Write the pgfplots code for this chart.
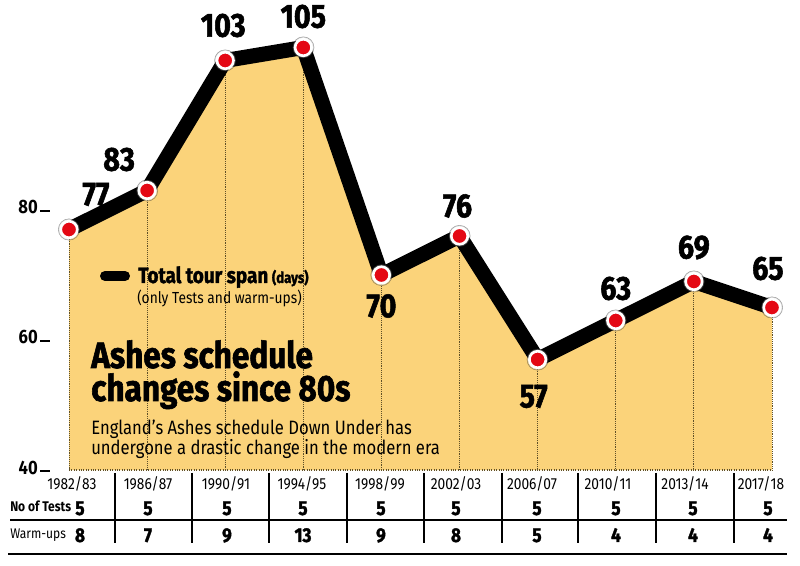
\documentclass[border=0pt]{standalone}
\usepackage{fontspec}
\setmainfont{Fira Sans}[FakeStretch=0.86]
\newfontfamily\heavy{Fira Sans}[FakeStretch=0.86, BoldFeatures={FakeBold=1.6}]
\usepackage{pgfplots}
\usepackage{pgfplotstable}
\usepgfplotslibrary{fillbetween}
\pgfplotsset{compat=1.18}

\definecolor{areafill}{RGB}{251,211,122}
\definecolor{dotred}{RGB}{228,8,20}
\definecolor{dotline}{RGB}{95,80,40}

% Ashes tours Down Under: total span (days), Tests and warm-up games
\pgfplotstableread{
x span tests warm
0  77 5 8
1  83 5 7
2 103 5 9
3 105 5 13
4  70 5 9
5  76 5 8
6  57 5 5
7  63 5 4
8  69 5 4
9  65 5 4
}\tours

% value label: x index, value, x offset and y offset in px
\newcommand\vlab[4]{\node[font=\heavy\fontsize{25}{25}\selectfont\bfseries, xshift={#3*0.75pt}, yshift={#4*0.75pt}] at (axis cs:#1,#2) {#2};}

\begin{document}
\begin{tikzpicture}
\begin{axis}[
  scale only axis, width=600pt, height=423.75pt,
  xmin=-0.8834, xmax=9.3591, ymin=25.3846, ymax=112.3077,
  hide axis, clip=false,
]
\coordinate (tl) at (rel axis cs:0,1);
\coordinate (br) at (rel axis cs:1,0);

% shaded area under the tour-span line, down to 40 days
\addplot[name path=top, draw=none, forget plot] table[x=x, y=span] {\tours};
\path[name path=base] (axis cs:0,40) -- (axis cs:9,40);
\addplot[areafill] fill between[of=top and base];
\draw[dotline, densely dotted, line width=0.8pt] (axis cs:0,40) -- (axis cs:9,40);

% dotted drop lines from each tour down to the base
\addplot[draw=none, forget plot,
  error bars/.cd, y dir=minus, y explicit, error mark=none,
  error bar style={dotline, densely dotted, line width=0.7pt}]
  table[x=x, y=span, y error expr=\thisrow{span}-40] {\tours};

% the tour-span line
\addplot[black, line width=11.25pt, line join=round] table[x=x, y=span] {\tours};

% markers with a soft halo
\addplot[only marks, mark=*, mark size=8pt,
  mark options={fill=black!30, draw=none, opacity=0.35}] table[x=x, y=span] {\tours};
\addplot[only marks, mark=*, mark size=6.2pt,
  mark options={fill=dotred, draw=white, line width=2pt}] table[x=x, y=span] {\tours};

% values
\vlab{0}{77}{27}{35}
\vlab{1}{83}{-28}{31}
\vlab{2}{103}{-2}{35}
\vlab{3}{105}{0}{31}
\vlab{4}{70}{0}{-31}
\vlab{5}{76}{-2}{30}
\vlab{6}{57}{-4}{-37}
\vlab{7}{63}{0}{32}
\vlab{8}{69}{0}{34}
\vlab{9}{65}{-4}{39}
\end{axis}

\begin{scope}[shift={(tl)}, x=0.75pt, y=-0.75pt]
% y scale marks
\foreach \v/\yb/\yl in {80/214/211, 60/344/341, 40/475/471}{
  \node[anchor=base east, inner sep=0pt, font=\fontsize{14.5}{14.5}\selectfont\bfseries] at (38,\yb) {\v};
  \draw[line width=0.9pt] (40,\yl) -- (50,\yl);
}

% legend
\draw[black, line width=7.5pt, line cap=round] (105,276) -- (125,276);
\node[anchor=base west, inner sep=0pt] at (138,283)
  {\heavy\fontsize{16.5}{16.5}\selectfont\bfseries Total tour span\,\fontsize{11.5}{11.5}\selectfont(days)};
\node[anchor=base west, inner sep=0pt, font=\fontsize{12}{12}\selectfont] at (137,304)
  {(only Tests and warm-ups)};

% title and subtitle
\node[anchor=base west, inner sep=0pt, font=\heavy\fontsize{27.5}{27.5}\selectfont\bfseries] at (91,368) {Ashes schedule};
\node[anchor=base west, inner sep=0pt, font=\heavy\fontsize{27.5}{27.5}\selectfont\bfseries] at (91,401) {changes since 80s};
\node[anchor=base west, inner sep=0pt, font=\fontsize{14.5}{14.5}\selectfont] at (91,435) {England's Ashes schedule Down Under has};
\node[anchor=base west, inner sep=0pt, font=\fontsize{14.5}{14.5}\selectfont] at (91,455) {undergone a drastic change in the modern era};

% season labels
\foreach \px/\s in {72/1982\slash 83, 148/1986\slash 87, 226/1990\slash 91, 302/1994\slash 95, 380/1998\slash 99,
                    456/2002\slash 03, 532/2006\slash 07, 608/2010\slash 11, 685/2013\slash 14, 761/2017\slash 18}{
  \node[anchor=base, inner sep=0pt, font=\fontsize{12}{12}\selectfont] at (\px,490) {\s};
}

% table rows
\node[anchor=base west, inner sep=0pt, font=\fontsize{10.5}{10.5}\selectfont\bfseries] at (10,512) {No of Tests};
\node[anchor=base west, inner sep=0pt, font=\fontsize{10.5}{10.5}\selectfont] at (10,539) {Warm-ups};
\foreach \px/\t/\w in {80/5/8, 148/5/7, 227/5/9, 303/5/13, 381/5/9, 456/5/8, 537/5/5, 616/5/4, 693/5/4, 768/5/4}{
  \node[anchor=base, inner sep=0pt, font=\heavy\fontsize{15}{15}\selectfont\bfseries] at (\px,515) {\t};
  \node[anchor=base, inner sep=0pt, font=\heavy\fontsize{15}{15}\selectfont\bfseries] at (\px,542) {\w};
}
\foreach \px in {115,192,269,347,424,502,578,656,734}{
  \draw[line width=1.1pt] (\px,473) -- (\px,543);
}
\draw[line width=1.1pt] (10,520) -- (787,520);
\draw[line width=1.3pt] (8,554) -- (787,554);
\end{scope}

\pgfresetboundingbox
\path (tl) rectangle (br);
\end{tikzpicture}
\end{document}
